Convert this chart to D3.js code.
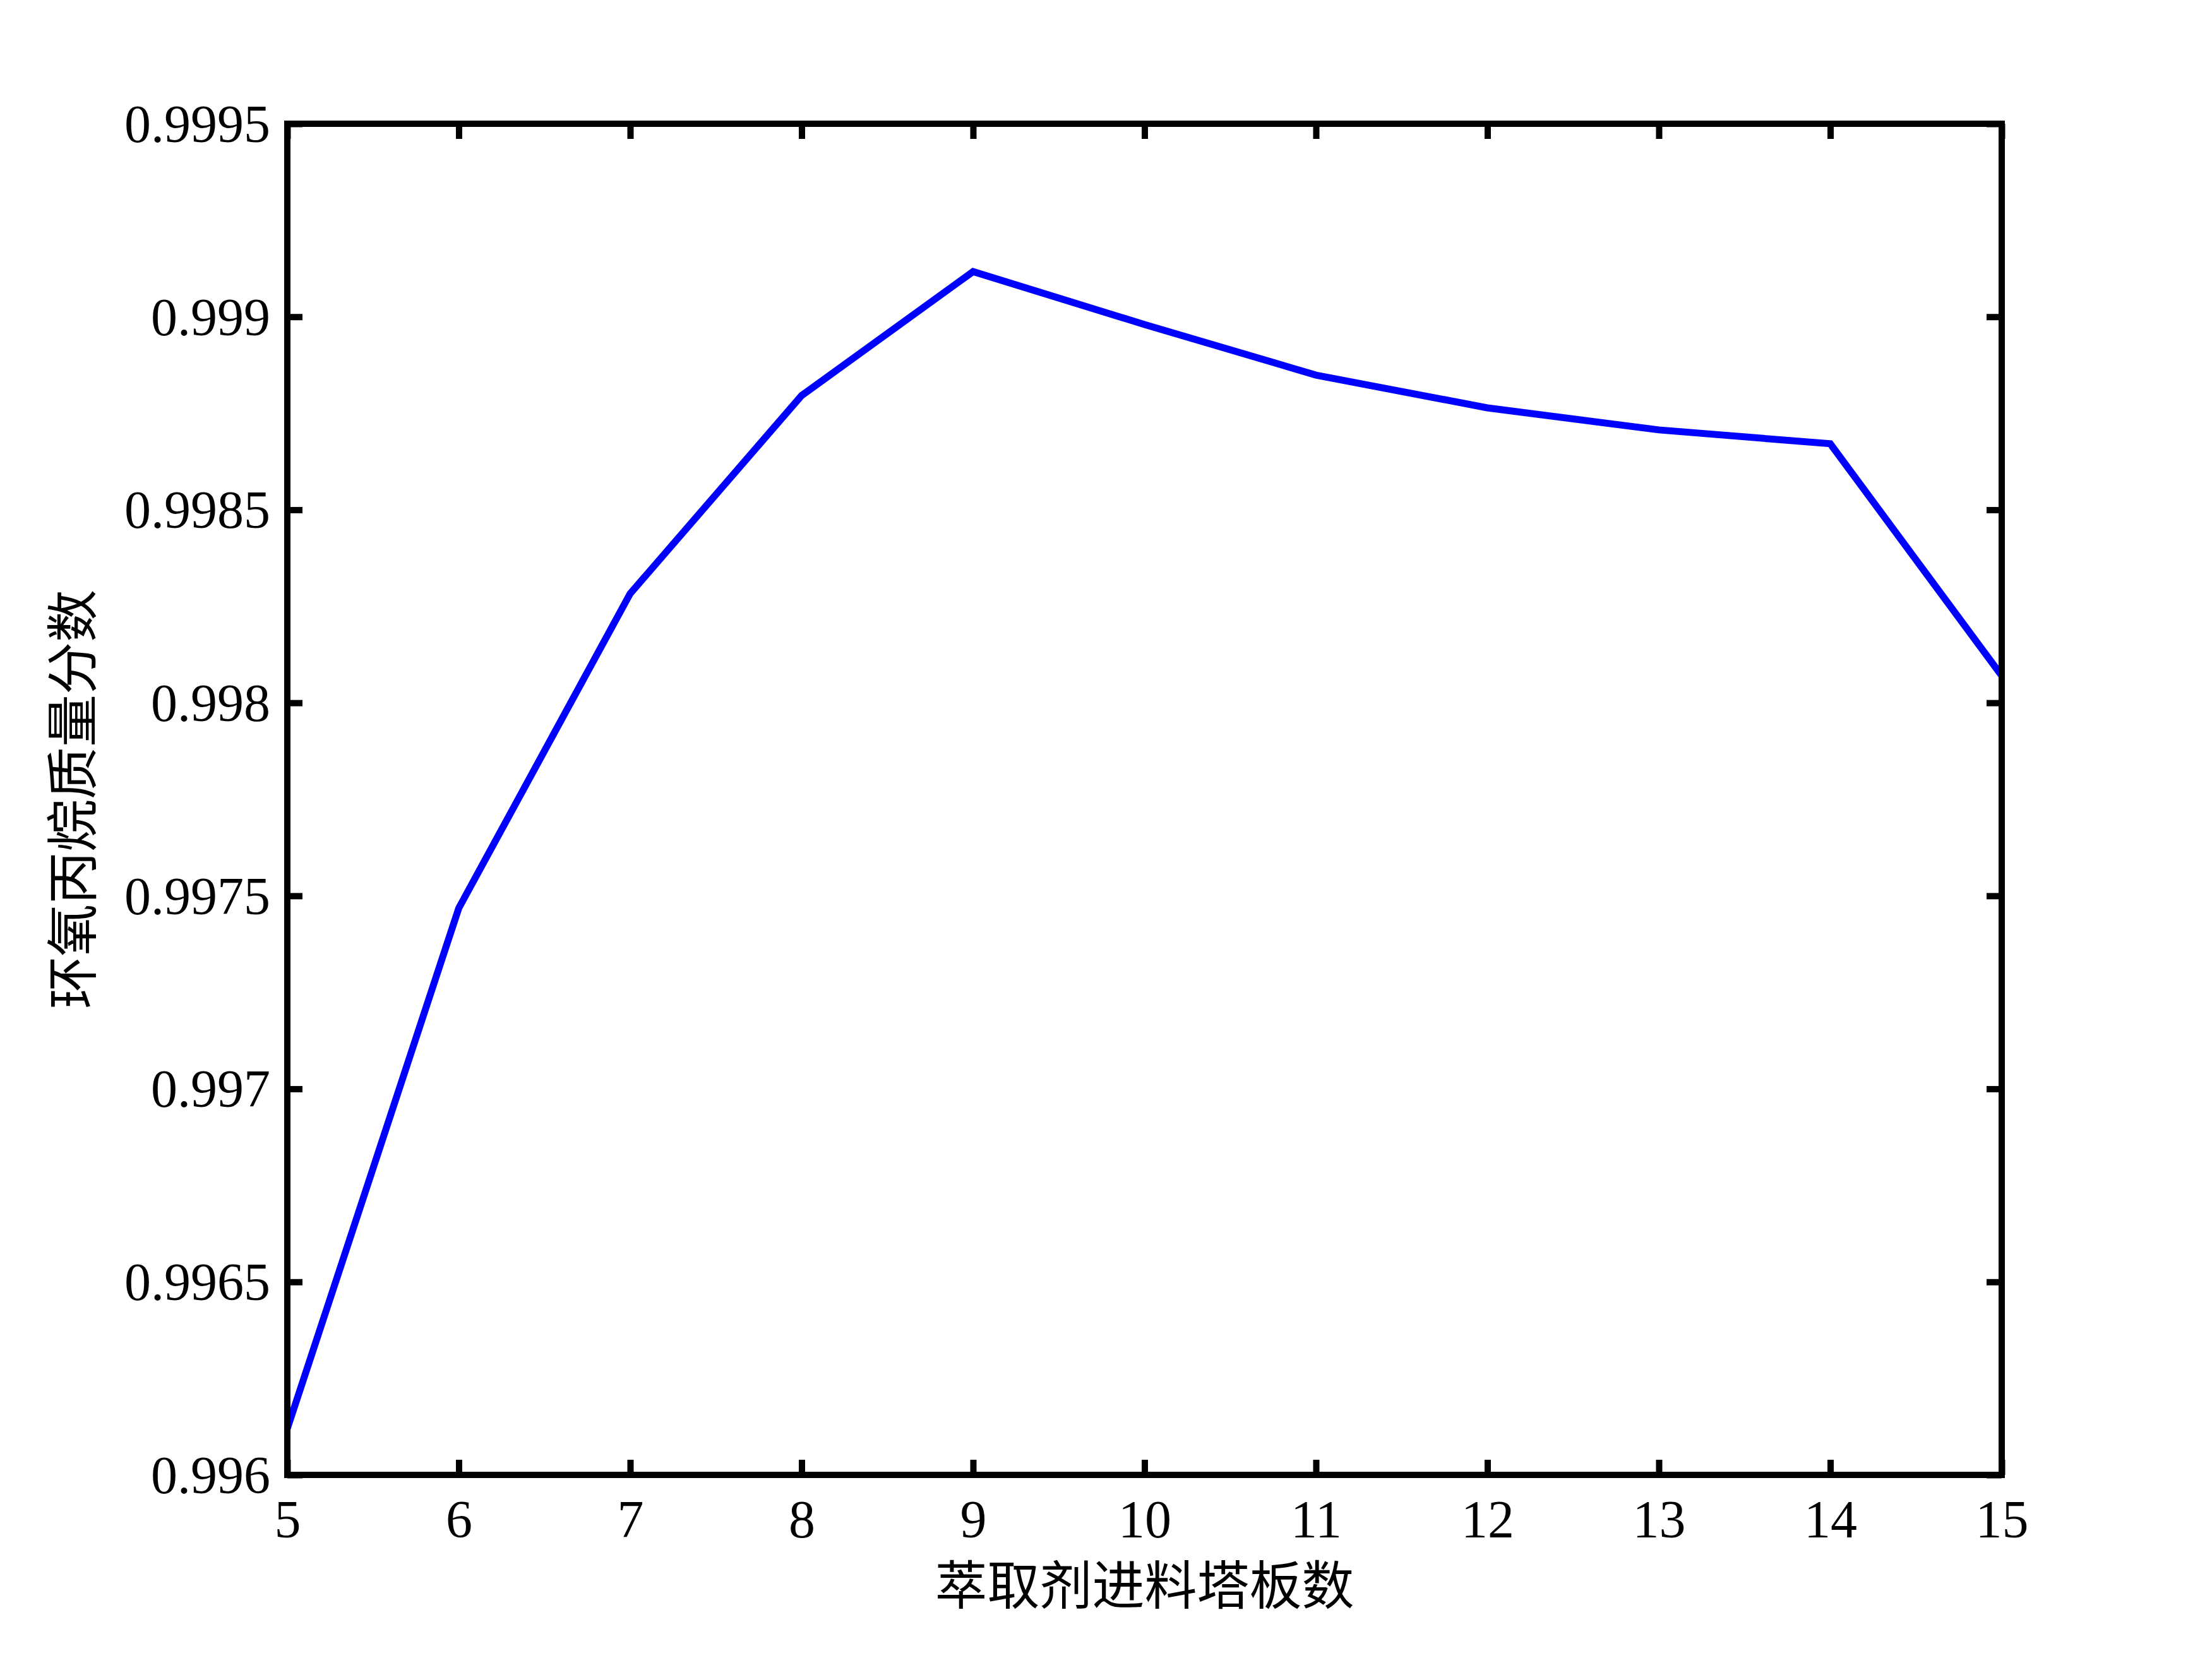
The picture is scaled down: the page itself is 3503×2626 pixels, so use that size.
<!DOCTYPE html>
<html>
<head>
<meta charset="utf-8">
<script src="https://cdn.jsdelivr.net/npm/d3@7"></script>
<style>
  html, body { margin: 0; padding: 0; background: #fff; }
  svg { display: block; }
</style>
</head>
<body>
<script>
// data
const stages = [5, 6, 7, 8, 9, 10, 11, 12, 13, 14, 15];
const purity = [0.99612, 0.997468, 0.998283, 0.998796, 0.999117, 0.99898,
                0.998849, 0.998764, 0.998707, 0.998671, 0.99807];
const xTicks = [5, 6, 7, 8, 9, 10, 11, 12, 13, 14, 15];
const yTicks = [0.996, 0.9965, 0.997, 0.9975, 0.998, 0.9985, 0.999, 0.9995];
const yTickLabels = ["0.996", "0.9965", "0.997", "0.9975", "0.998", "0.9985", "0.999", "0.9995"];
const xTitle = "萃取剂进料塔板数";
const yTitle = "环氧丙烷质量分数";

const W = 3503, H = 2626;
const margin = { left: 455, top: 196, right: 3503 - 3170, bottom: 2626 - 2336 };
const iw = W - margin.left - margin.right;
const ih = H - margin.top - margin.bottom;

const numFont = "'Liberation Serif', 'Times New Roman', serif";
const cjkFont = "'Noto Sans CJK SC', 'Noto Sans CJK TC', sans-serif";

const svg = d3.select("body").append("svg")
  .attr("width", W)
  .attr("height", H);

svg.append("rect").attr("width", W).attr("height", H).attr("fill", "#fff");

const g = svg.append("g").attr("transform", `translate(${margin.left},${margin.top})`);

const x = d3.scaleLinear().domain([5, 15]).range([0, iw]);
const y = d3.scaleLinear().domain([0.996, 0.9995]).range([ih, 0]);

// series
const line = d3.line()
  .x((d, i) => x(stages[i]))
  .y(d => y(d));

g.append("path")
  .datum(purity)
  .attr("d", line)
  .attr("fill", "none")
  .attr("stroke", "#0000ff")
  .attr("stroke-width", 11)
  .attr("stroke-linejoin", "miter");

// axes, ticks pointing inward like matlab's box
const tickLen = 24;
function styleAxis(sel) {
  sel.select(".domain").remove();
  sel.selectAll(".tick line").attr("stroke", "#000").attr("stroke-width", 10);
}

const axBottom = g.append("g").attr("transform", `translate(0,${ih})`)
  .call(d3.axisBottom(x).tickValues(xTicks).tickSizeInner(-tickLen).tickSizeOuter(0).tickFormat(d3.format("d")));
styleAxis(axBottom);
axBottom.selectAll(".tick text")
  .attr("y", 99).attr("dy", null)
  .attr("font-family", numFont).attr("font-size", 84).attr("fill", "#000");

const axTop = g.append("g")
  .call(d3.axisTop(x).tickValues(xTicks).tickSizeInner(-tickLen).tickSizeOuter(0).tickFormat(""));
styleAxis(axTop);

const axLeft = g.append("g")
  .call(d3.axisLeft(y).tickValues(yTicks).tickSizeInner(-tickLen).tickSizeOuter(0)
    .tickFormat((d, i) => yTickLabels[i]));
styleAxis(axLeft);
axLeft.selectAll(".tick text")
  .attr("x", -27).attr("dy", "0.338em")
  .attr("text-anchor", "end")
  .attr("font-family", numFont).attr("font-size", 84).attr("fill", "#000");

const axRight = g.append("g").attr("transform", `translate(${iw},0)`)
  .call(d3.axisRight(y).tickValues(yTicks).tickSizeInner(-tickLen).tickSizeOuter(0).tickFormat(""));
styleAxis(axRight);

// frame
g.append("rect")
  .attr("width", iw).attr("height", ih)
  .attr("fill", "none")
  .attr("stroke", "#000")
  .attr("stroke-width", 10)
  .attr("stroke-linejoin", "miter");

// titles
svg.append("text")
  .attr("x", margin.left + iw / 2)
  .attr("y", 2541)
  .attr("text-anchor", "middle")
  .attr("font-family", cjkFont)
  .attr("font-size", 83)
  .attr("fill", "#000")
  .text(xTitle);

svg.append("text")
  .attr("transform", `translate(145,${margin.top + ih / 2}) rotate(-90)`)
  .attr("text-anchor", "middle")
  .attr("font-family", cjkFont)
  .attr("font-size", 83)
  .attr("fill", "#000")
  .text(yTitle);
</script>
</body>
</html>
